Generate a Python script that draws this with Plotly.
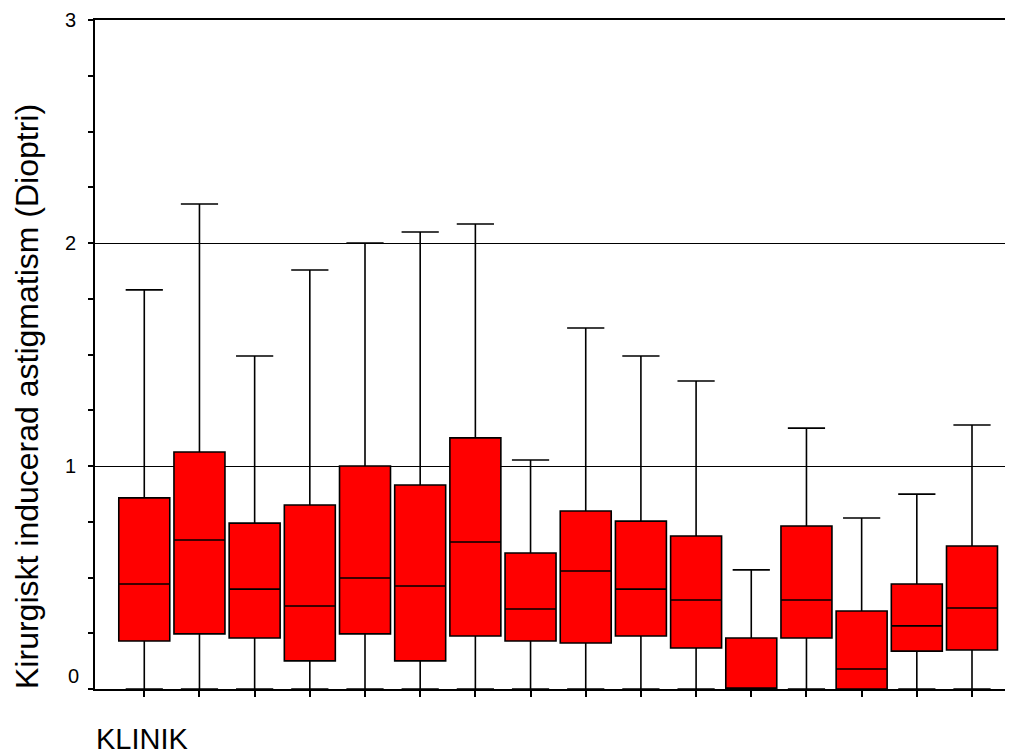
import plotly.graph_objects as go

# values (dioptres)
klinik = list(range(1, 17))
upper = [1.79, 2.175, 1.493, 1.879, 2.0, 2.049, 2.085, 1.027,
         1.619, 1.493, 1.381, 0.534, 1.17, 0.767, 0.874, 1.184]
q3 = [0.857, 1.063, 0.744, 0.825, 1.0, 0.915, 1.126, 0.61,
      0.798, 0.753, 0.686, 0.229, 0.731, 0.35, 0.471, 0.641]
median = [0.471, 0.668, 0.448, 0.372, 0.498, 0.462, 0.659, 0.359,
          0.529, 0.448, 0.399, 0.0, 0.399, 0.09, 0.283, 0.363]
q1 = [0.215, 0.247, 0.229, 0.126, 0.247, 0.126, 0.238, 0.215,
      0.206, 0.238, 0.184, 0.0, 0.229, 0.0, 0.17, 0.175]
lower = [0.0] * 16

FONT = "Liberation Sans, Arial, sans-serif"

fig = go.Figure()
fig.add_trace(go.Box(
    x=klinik, q1=q1, median=median, q3=q3,
    lowerfence=lower, upperfence=upper,
    width=0.924, whiskerwidth=0.73,
    fillcolor="#ff0000",
    line=dict(color="black", width=1.6),
    hoverinfo="skip", showlegend=False))

# page body has an 8px margin, so the figure is 8px smaller than the window
fig.update_layout(
    width=1005, height=747,
    margin=dict(l=87, r=0, t=12, b=66),
    paper_bgcolor="white", plot_bgcolor="white",
    font=dict(family=FONT, color="black"),
    showlegend=False,
    xaxis=dict(range=[0.107, 16.743], tickvals=klinik, showticklabels=False,
               ticks="outside", ticklen=6, tickcolor="black", tickwidth=1.5,
               showline=True, mirror=True, linecolor="black", linewidth=2,
               showgrid=False, zeroline=False),
    yaxis=dict(range=[0, 3], tickvals=[0, 1, 2, 3], ticktext=["", "1", "2", "3"],
               ticks="outside", ticklen=5, tickcolor="black", tickwidth=1.5,
               tickfont=dict(size=20), ticklabelstandoff=8,
               showline=True, linecolor="black", linewidth=2,
               showgrid=True, gridcolor="black", gridwidth=1, zeroline=False,
               minor=dict(dtick=0.25, tick0=0, ticks="outside", ticklen=5,
                          tickcolor="black", tickwidth=1.5, showgrid=False)),
)

# zero label sits a bit above its tick in the original
fig.add_annotation(text="0", xref="paper", yref="y", x=0, y=0,
                   xanchor="right", yanchor="middle", xshift=-14, yshift=13,
                   showarrow=False, font=dict(size=20))
fig.add_annotation(text="Kirurgiskt inducerad astigmatism (Dioptri)",
                   xref="paper", yref="paper", x=0, y=0.4365, xshift=-68,
                   xanchor="center", yanchor="middle", textangle=-90,
                   showarrow=False, font=dict(size=32))
fig.add_annotation(text="KLINIK", xref="paper", yref="paper", x=0, y=0,
                   xanchor="left", yanchor="middle", xshift=0, yshift=-50,
                   borderpad=0, showarrow=False, font=dict(size=29))

fig.write_html("out.html")
